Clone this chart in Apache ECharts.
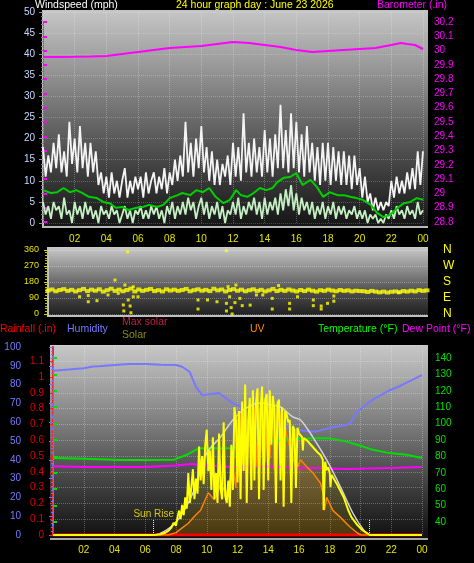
<!DOCTYPE html>
<html><head><meta charset="utf-8">
<script src="https://cdn.jsdelivr.net/npm/echarts@6/dist/echarts.min.js"></script>
<style>html,body{margin:0;padding:0;background:#000;}#c{width:474px;height:563px;}</style>
</head><body><div id="c"></div>
<script>
// ---------------- DATA ----------------
const hourTicks = ['02','04','06','08','10','12','14','16','18','20','22','00'];
const dirLabels = ['N','E','S','W','N'];

// wind gust (mph), one value every 10 minutes, 00:00 .. 24:00
const windGust = [
 18,11,16,12,19,13, 21,12,17,11,24,14, 20,12,23,13,19,11, 19,12,17,9,12,7,
 11,6,12,7,10,6, 10,13,6,10,7,11, 8,11,6,12,7,10, 12,7,11,8,13,7,
 12,9,15,10,16,11, 24,12,19,11,20,13, 23,12,18,10,17,9, 15,9,14,11,16,9,
 19,11,18,10,26,12, 19,11,20,12,18,11, 22,12,20,11,21,13, 28,13,22,12,26,13,
 24,12,21,11,23,12, 19,10,18,9,19,10, 19,9,18,10,17,9, 17,9,16,8,16,9,
 13,6,11,5,7,3, 6,3,5,3,5,4, 10,6,11,7,10,7, 12,8,13,8,17,9, 17
];
// wind speed (mph), every 10 minutes
const windSpeed = [
 5,2,4,1,5,3, 4,1,6,2,3,0, 5,2,4,1,5,2, 4,1,3,0,4,2,
 3,1,4,2,3,0, 2,4,1,3,0,3, 2,4,1,3,1,4, 2,4,1,3,0,4,
 2,5,1,4,2,5, 2,6,3,5,1,4, 6,2,5,1,4,2, 5,1,4,0,3,2,
 5,2,6,1,4,2, 5,3,6,2,5,1, 6,2,5,3,6,2, 7,3,8,4,9,3,
 7,2,6,3,5,2, 5,1,4,2,5,1, 4,2,5,1,4,2, 4,1,3,2,4,1,
 3,1,3,0,2,1, 2,0,1,0,2,1, 3,1,4,2,3,1, 4,2,3,1,5,2, 3
];
// average wind [hour, mph]
const windAvg = [[0,7.8],[0.5,7.1],[0.9,7.3],[1.3,8.3],[1.7,7.3],[2.1,7.8],[2.5,7.1],[2.9,6.2],[3.4,5.9],[3.8,5.0],[4.2,4.7],[4.6,3.6],[5.0,3.8],[5.4,3.1],[5.9,3.6],[6.3,3.8],[6.7,4.3],[7.2,3.8],[7.6,4.3],[8.0,5.9],[8.5,6.6],[8.8,7.1],[9.3,6.6],[9.7,7.8],[10.1,7.3],[10.5,8.3],[10.9,6.2],[11.4,4.7],[11.8,5.5],[12.2,7.8],[12.5,6.6],[12.9,6.2],[13.3,7.1],[13.7,8.3],[14.1,7.8],[14.5,8.3],[14.8,9.7],[15.2,10.7],[15.6,10.9],[16.0,11.8],[16.4,9.0],[16.9,10.2],[17.3,8.5],[17.7,6.2],[18.1,7.3],[18.6,6.6],[19.0,6.6],[19.4,6.2],[19.8,5.9],[20.2,5.5],[20.7,4.3],[21.1,2.4],[21.5,1.4],[21.9,1.9],[22.4,3.6],[22.8,4.7],[23.2,5.0],[23.6,5.9],[24,5.5]];
// barometer [hour, inHg]
const barometer = [[0,29.955],[1,29.955],[2,29.956],[3,29.958],[4,29.962],[5,29.976],[6,29.990],[7,30.004],[8,30.018],[9,30.025],[10,30.032],[11,30.046],[12,30.060],[13,30.053],[14,30.039],[15,30.025],[16,30.004],[17,29.990],[18,29.997],[19,30.004],[20,30.011],[21,30.018],[22,30.039],[22.6,30.053],[23,30.046],[23.5,30.039],[24,30.011]];
// wind direction (degrees), every 15 minutes
const windDir = [
 132,138,128,135, 140,130,136,127, 134,141,129,137, 131,139,126,134,
 142,130,137,128, 135,143,127,138, 130,136,141,129, 134,127,139,132,
 137,130,135,141, 128,134,139,131, 136,129,142,133, 138,127,135,140,
 131,137,128,134, 139,130,136,127, 133,141,129,136, 130,138,132,127,
 135,129,137,131, 126,134,130,137, 132,128,135,130, 133,127,131,129,
 128,124,130,126, 122,126,121,125, 127,123,129,126, 131,127,134,130, 133
];
const windDirOutliers = [[5.04,350],[11.3,356],[4.24,191],[2.0,97],[2.55,69],[2.55,104],[3.1,75],[3.8,107],[4.45,116],[4.77,51],[4.8,17],[5.08,79],[5.2,45],[5.25,7],[5.4,97],[5.7,97],[4.87,163],[5.4,153],[9.5,79],[9.5,28],[10.1,79],[10.7,69],[11.3,60],[11.3,17],[11.5,97],[11.6,36],[11.66,0],[11.4,154],[11.9,163],[11.84,64],[12.15,88],[12.3,47],[12.8,50],[13.2,107],[13.6,107],[14.2,88],[14.2,28],[14.6,160],[15.3,60],[15.3,28],[15.8,97],[16.8,79],[16.8,47],[17.3,45],[17.3,28],[17.7,60],[18.1,72],[18.1,101],[22.2,120]];

const humidity = [[0,87.4],[1,88],[2,88.7],[2.6,89.6],[3,89.8],[4,90.4],[5,91],[6,91],[7,90.6],[8,90.4],[8.4,89.5],[8.9,86.7],[9.3,78.7],[9.7,74.5],[10.3,75],[10.8,75.5],[11.7,70],[12.6,67.5],[13.2,65],[13.9,62],[14.7,58.5],[15.3,57],[16,55.8],[16.8,55],[17.1,55],[18,57],[19.1,58.5],[19.4,60],[19.7,65],[20.3,69],[20.8,72],[21.9,77],[22.5,79],[23,81],[23.5,83],[24,85]];
const temperature = [[0,79],[2,78.5],[4.4,77.8],[6,77.8],[7.9,78],[8.7,81],[9.5,85],[10.5,85],[11.7,85],[12.6,87],[13.9,89],[15,90],[16,90.6],[16.8,91],[18,91],[19.1,89],[20,86.5],[20.8,84],[21.9,82],[23,81],[24,79]];
const dewPoint = [[0,74],[2,73.5],[4,73.5],[6,73.5],[8,74.5],[9,75.4],[10,74.5],[11.7,73.5],[13.9,74],[16,73],[17,73],[19.1,72.3],[21.9,73],[24,73.5]];
const rainfall = [[0,0],[24,0]];
const maxSolar = [[0,0],[6.5,0],[7.4,27],[8.26,96],[9.1,223],[10.0,436],[10.9,521],[11.7,612],[12.6,676],[13.5,702],[14.3,691],[14.8,681],[15.6,628],[16.1,612],[16.9,521],[17.8,399],[18.7,255],[19.5,117],[20.2,27],[20.6,0],[24,0]];
const solar = [[0,0],[6.6,0],[7.0,4],[7.3,12],[7.5,22],[7.7,40],[7.85,65],[8.0,50],[8.1,95],[8.2,130],[8.3,85],[8.4,160],[8.5,105],[8.6,200],[8.7,140],[8.8,330],[8.9,170],[9.0,260],[9.1,350],[9.2,190],[9.3,300],[9.4,220],[9.5,470],[9.6,290],[9.7,420],[9.8,270],[9.9,480],[10.0,560],[10.1,340],[10.2,450],[10.3,240],[10.4,520],[10.5,190],[10.6,330],[10.7,170],[10.8,540],[10.9,250],[11.0,190],[11.1,600],[11.2,210],[11.3,170],[11.4,290],[11.5,150],[11.6,480],[11.7,240],[11.8,680],[11.9,610],[12.0,280],[12.1,660],[12.2,190],[12.3,710],[12.4,340],[12.5,800],[12.6,170],[12.7,610],[12.8,730],[12.9,240],[13.0,770],[13.1,290],[13.2,700],[13.3,780],[13.4,190],[13.5,660],[13.6,790],[13.7,240],[13.8,720],[13.9,750],[14.0,290],[14.1,770],[14.2,480],[14.3,740],[14.4,660],[14.5,170],[14.6,700],[14.7,720],[14.8,290],[14.9,680],[15.0,150],[15.1,660],[15.2,640],[15.3,600],[15.4,612],[15.5,170],[15.6,580],[15.7,560],[15.8,250],[15.9,570],[16.0,540],[16.2,521],[16.25,450],[16.3,515],[16.5,505],[16.9,468],[17.2,440],[17.4,426],[17.55,400],[17.6,133],[17.7,390],[17.8,346],[17.9,360],[18.0,330],[18.05,255],[18.1,320],[18.2,309],[18.5,266],[18.9,202],[19.2,133],[19.4,96],[19.8,53],[20.1,27],[20.4,11],[20.6,0],[24,0]];
const uv = [[0,0],[7.5,0],[8.0,0.2],[8.4,0.6],[8.8,1.0],[9.2,1.6],[9.6,2.1],[10.1,3.6],[10.5,3.0],[10.9,4.3],[11.3,3.5],[11.7,5.8],[11.9,4.0],[12.0,9.8],[12.1,5.0],[12.2,10.4],[12.35,6.0],[12.5,10.8],[12.6,5.5],[12.8,10.5],[12.9,6.5],[13.1,10.9],[13.2,5.8],[13.4,10.6],[13.5,7.0],[13.7,11.0],[13.8,6.2],[14.0,10.7],[14.1,6.5],[14.3,10.8],[14.4,5.5],[14.6,10.5],[14.8,10.4],[14.9,6.0],[15.0,9.8],[15.2,8.5],[15.4,7.5],[15.6,6.5],[15.9,5.8],[16.1,6.4],[16.5,5.8],[16.9,5.3],[17.4,4.4],[17.6,3.4],[17.65,2.1],[17.8,3.2],[18.2,2.1],[18.7,1.5],[19.3,0.7],[19.8,0.17],[20.0,0],[24,0]];
const sunRise = 6.55, sunSet = 20.6, sunMarkHeight = 80;

// ---------------- CHART ----------------
const FONT = 'Liberation Sans, Arial, sans-serif';
const chart = echarts.init(document.getElementById('c'), null, {renderer:'canvas'});
const grad = (stops) => new echarts.graphic.LinearGradient(0,0,0,1, stops.map((c,i)=>({offset:i/(stops.length-1), color:c})));
const fmt1 = v => { const r = Math.round(v*10)/10; return (Math.abs(r - Math.round(r)) < 1e-9) ? String(Math.round(r)) : r.toFixed(1); };

function xAx(gi, labels, margin, split){
  return {type:'value', gridIndex:gi, min:0, max:24, interval:2,
    axisLine:{show:false}, axisTick:{show:false},
    axisLabel:{show:labels, color:'#e4e400', fontSize:10, fontFamily:FONT, margin:margin, showMinLabel:false,
      formatter: v => v===0 ? '' : hourTicks[v/2-1]},
    splitLine:{show:split, lineStyle:{type:'dotted', color:'rgba(255,255,255,0.28)', width:1}}};
}
const hid = (gi, min, max) => ({type:'value', gridIndex:gi, min, max, show:false});

const option = {
  animation:false,
  backgroundColor:'#000',
  textStyle:{fontFamily:FONT},
  grid:[
    {left:43, top:12, width:380, height:211},
    {left:43, top:22, width:380, height:200},
    {left:48, top:250, width:379, height:64},
    {left:53, top:347, width:369, height:188},
    {left:53, top:345.4, width:369, height:189.6},
    {left:53, top:358, width:369, height:164}
  ],
  xAxis:[ xAx(0,true,11,true), xAx(1,false,0,false), xAx(2,false,0,false), xAx(3,true,10,true), xAx(4,false,0,false), xAx(5,false,0,false) ],
  yAxis:[
    {type:'value', gridIndex:0, min:0, max:50, interval:5, position:'left',
      axisLine:{show:false}, axisTick:{show:true, length:4, lineStyle:{color:'#909090'}},
      minorTick:{show:true, splitNumber:5, length:2, lineStyle:{color:'#808080'}},
      axisLabel:{color:'#c8d8ff', fontSize:10, margin:8},
      splitLine:{show:true, lineStyle:{type:'dotted', color:'rgba(255,255,255,0.22)'}}},
    {type:'value', gridIndex:1, min:28.8, max:30.2, interval:0.1, position:'right', offset:5,
      axisLine:{show:true, lineStyle:{color:'#ff00ff', type:'dotted', width:1}},
      axisTick:{show:true, length:4, lineStyle:{color:'#ff00ff', width:2}},
      axisLabel:{color:'#ff00ff', fontSize:10, margin:6, formatter:fmt1},
      splitLine:{show:false}},
    {type:'value', gridIndex:2, min:0, max:360, interval:90, position:'left',
      axisLine:{show:false}, axisTick:{show:true, length:4, lineStyle:{color:'#d8d800'}},
      minorTick:{show:true, splitNumber:6, length:3, lineStyle:{color:'#c8c800'}},
      axisLabel:{color:'#e4e400', fontSize:9, margin:9},
      splitLine:{show:true, lineStyle:{type:'dotted', color:'rgba(255,255,255,0.3)'}}},
    {type:'value', gridIndex:2, min:0, max:360, interval:90, position:'right',
      axisLine:{show:false}, axisTick:{show:false}, splitLine:{show:false},
      axisLabel:{color:'#ffff00', fontSize:12, margin:16, formatter: v => dirLabels[Math.round(v/90)]}},
    {type:'value', gridIndex:3, min:0, max:100, interval:10, position:'left', offset:24,
      axisLine:{show:true, lineStyle:{color:'#7070ff', width:2}},
      axisTick:{show:true, length:4, lineStyle:{color:'#7070ff'}},
      minorTick:{show:true, splitNumber:5, length:2, lineStyle:{color:'#7070ff'}},
      axisLabel:{color:'#7878ff', fontSize:10, margin:8},
      splitLine:{show:false}},
    hid(3,0,1000),
    hid(3,0,16),
    {type:'value', gridIndex:4, min:0, max:1.2, interval:0.1, position:'left', offset:3,
      axisLine:{show:true, lineStyle:{color:'#ff2020', type:'dashed', width:2}},
      axisTick:{show:true, length:3, lineStyle:{color:'#ff2020'}},
      axisLabel:{color:'#e00000', fontSize:10, margin:6, showMaxLabel:false, formatter:fmt1},
      splitLine:{show:true, lineStyle:{type:'dotted', color:'rgba(255,255,255,0.28)'}}},
    {type:'value', gridIndex:5, min:40, max:140, interval:10, position:'right', offset:7,
      axisLine:{show:true, lineStyle:{color:'#00e000', type:'dotted', width:1}},
      axisTick:{show:true, length:4, lineStyle:{color:'#00e000', width:2}},
      axisLabel:{color:'#00e000', fontSize:10, margin:6},
      splitLine:{show:false}}
  ],
  graphic:[
    {type:'rect', z:-5, shape:{x:42,y:10,width:386,height:218}, style:{fill:grad(['#c6c6c6','#9a9a9a','#6a6a6a','#3c3c3c','#141414'])}},
    {type:'rect', z:-5, shape:{x:47,y:247,width:381,height:70}, style:{fill:grad(['#cacaca','#8a8a8a','#4a4a4a','#1c1c1c'])}},
    {type:'rect', z:-5, shape:{x:50,y:345,width:378,height:195}, style:{fill:grad(['#c8c8c8','#9a9a9a','#6a6a6a','#3a3a3a','#0e0e0e'])}},
    {type:'line', z:-4, shape:{x1:43,y1:10,x2:43,y2:228}, style:{stroke:'#c0c0c0', lineWidth:2}},
    {type:'line', z:-4, shape:{x1:42,y1:227,x2:428,y2:227}, style:{stroke:'#b8b8b8', lineWidth:2}},
    {type:'line', z:-4, shape:{x1:48,y1:247,x2:48,y2:317}, style:{stroke:'#c0c0c0', lineWidth:2}},
    {type:'line', z:-4, shape:{x1:47,y1:316,x2:428,y2:316}, style:{stroke:'#c0c0c0', lineWidth:2}},
    {type:'line', z:-4, shape:{x1:50,y1:539,x2:428,y2:539}, style:{stroke:'#a8a8a8', lineWidth:2}},
    {type:'text', left:35, top:0, style:{text:'Windspeed (mph)', fill:'#ffffff', font:'10.5px '+FONT}},
    {type:'text', left:176, top:0, style:{text:'24 hour graph day : June 23 2026', fill:'#ffff00', font:'10.5px '+FONT}},
    {type:'text', left:377, top:0, style:{text:'Barometer (.in)', fill:'#ff00ff', font:'10.5px '+FONT}},
    {type:'text', left:0, top:324, style:{text:'Rainfall (.in)', fill:'#ff0000', font:'10.5px '+FONT}},
    {type:'text', left:67, top:324, style:{text:'Humidity', fill:'#7878ff', font:'10.5px '+FONT}},
    {type:'text', left:122, top:317, style:{text:'Max solar', fill:'#c81e46', font:'10.5px '+FONT}},
    {type:'text', left:122, top:330, style:{text:'Solar', fill:'#8c8c14', font:'10.5px '+FONT}},
    {type:'text', left:250, top:324, style:{text:'UV', fill:'#ff8c00', font:'10.5px '+FONT}},
    {type:'text', left:318, top:324, style:{text:'Temperature (°F)', fill:'#00ff00', font:'10.5px '+FONT}},
    {type:'text', left:402, top:324, style:{text:'Dew Point (°F)', fill:'#ff00ff', font:'10.5px '+FONT}}
  ],
  series:[
    {type:'line', xAxisIndex:0, yAxisIndex:0, data:windGust.map((v,i)=>[i/6,v]), symbol:'none', lineStyle:{color:'#f4f4f4', width:1.8}},
    {type:'line', xAxisIndex:0, yAxisIndex:0, data:windSpeed.map((v,i)=>[i/6,v]), symbol:'none', lineStyle:{color:'#c4f0c4', width:1.8}},
    {type:'line', xAxisIndex:0, yAxisIndex:0, data:windAvg, symbol:'none', lineStyle:{color:'#00d000', width:2}},
    {type:'line', xAxisIndex:1, yAxisIndex:1, data:barometer, symbol:'none', lineStyle:{color:'#ff00ff', width:2}},
    {type:'scatter', xAxisIndex:2, yAxisIndex:2, data:windDir.map((v,i)=>[i/4,v]), symbol:'rect', symbolSize:[5,4], itemStyle:{color:'#ffff00'}},
    {type:'scatter', xAxisIndex:2, yAxisIndex:2, data:windDirOutliers, symbol:'rect', symbolSize:3, itemStyle:{color:'#ffff00'}},
    {type:'line', xAxisIndex:3, yAxisIndex:4, data:humidity, symbol:'none', lineStyle:{color:'#7878ff', width:2}},
    {type:'line', xAxisIndex:5, yAxisIndex:8, data:temperature, symbol:'none', lineStyle:{color:'#00e000', width:2}},
    {type:'line', xAxisIndex:5, yAxisIndex:8, data:dewPoint, symbol:'none', lineStyle:{color:'#ff00ff', width:2}},
    {type:'line', xAxisIndex:3, yAxisIndex:5, data:maxSolar, symbol:'none', smooth:0.3, lineStyle:{color:'#d4d4d4', width:1.5}},
    {type:'line', xAxisIndex:4, yAxisIndex:7, data:rainfall, symbol:'none', lineStyle:{color:'#ff0000', width:3}},
    {type:'line', xAxisIndex:3, yAxisIndex:6, data:uv, symbol:'none', lineStyle:{color:'#ff8000', width:1.5}, areaStyle:{color:'rgba(255,128,0,0.18)'}},
    {type:'line', xAxisIndex:3, yAxisIndex:5, data:solar, symbol:'none', lineStyle:{color:'#ffff00', width:2}, areaStyle:{color:'rgba(255,220,0,0.18)'},
      markLine:{silent:true, symbol:'none', lineStyle:{color:'#ffff00', type:'dotted', width:1},
        data:[
          [{coord:[sunRise,0]},{coord:[sunRise,sunMarkHeight], label:{show:true, formatter:'Sun Rise', position:'end', color:'#d8c800', fontSize:10, fontFamily:FONT, distance:1}}],
          [{coord:[sunSet,0]},{coord:[sunSet,sunMarkHeight], label:{show:false}}]
        ]}}
  ]
};
chart.setOption(option);
</script></body></html>
